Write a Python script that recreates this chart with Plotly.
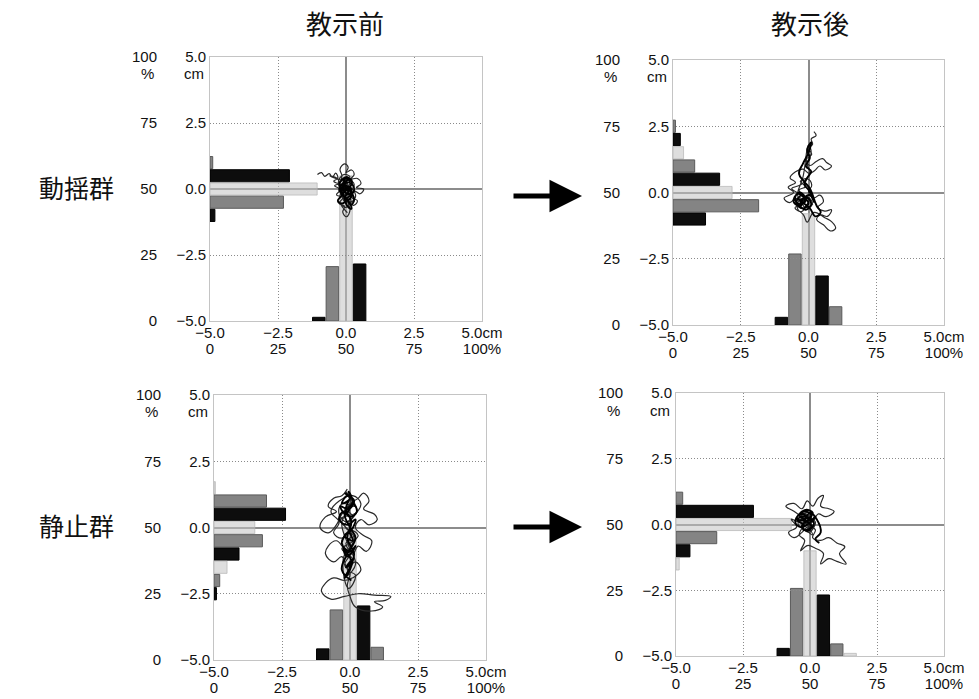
import plotly.graph_objects as go

W, H = 979, 699

# ---------------- text ----------------
col_titles = ["教示前", "教示後"]
row_titles = ["動揺群", "静止群"]

cm_ticks = [-5, -2.5, 0, 2.5, 5]
x_cm_text = ["−5.0", "−2.5", "0.0", "2.5", "5.0cm"]
y_cm_text = ["−5.0", "−2.5", "0.0", "2.5", "5.0"]
pct_ticks = [0, 25, 50, 75, 100]
x_pct_text = ["0", "25", "50", "75", "100%"]
y_pct_text = ["0", "25", "50", "75", "100"]

# ---------------- histogram data (bin centre in cm, share in %) ----------------
# 動揺群・教示前
tl_h_bins = [1.0, 0.5, 0.0, -0.5, -1.0]
tl_h_pct = [1.0, 29.2, 39.4, 27.0, 1.8]
tl_v_bins = [-1.0, -0.5, 0.0, 0.5]
tl_v_pct = [1.4, 20.6, 55.0, 21.6]
# 動揺群・教示後
tr_h_bins = [2.5, 2.0, 1.5, 1.0, 0.5, 0.0, -0.5, -1.0]
tr_h_pct = [0.9, 2.7, 3.9, 8.0, 17.2, 21.8, 31.6, 12.0]
tr_v_bins = [-1.0, -0.5, 0.0, 0.5, 1.0]
tr_v_pct = [2.9, 26.8, 42.0, 18.5, 6.9]
# 静止群・教示前
bl_h_bins = [1.5, 1.0, 0.5, 0.0, -0.5, -1.0, -1.5, -2.0, -2.5]
bl_h_pct = [0.5, 19.3, 26.3, 15.0, 17.8, 9.2, 4.8, 2.1, 0.9]
bl_v_bins = [-1.0, -0.5, 0.0, 0.5, 1.0]
bl_v_pct = [4.2, 18.9, 50.0, 20.4, 4.8]
# 静止群・教示後
br_h_bins = [1.0, 0.5, 0.0, -0.5, -1.0, -1.5]
br_h_pct = [2.5, 28.9, 43.0, 15.2, 5.2, 1.2]
br_v_bins = [-1.0, -0.5, 0.0, 0.5, 1.0, 1.5]
br_v_pct = [2.9, 25.7, 40.0, 23.2, 4.6, 1.0]

# ---------------- sway trajectories (cm), traced by eye ----------------
# outer wandering path
tl_tx = [-1.05, -0.9, -0.78, -0.62, -0.5, -0.38, -0.3, -0.45, -0.25, -0.15, -0.22, -0.05, 0.08, 0.0, 0.2, 0.3,
         0.18, 0.42, 0.55, 0.38, 0.65, 0.52, 0.3, 0.22, 0.42, 0.28, 0.08, 0.15, 0.02, -0.12, -0.05, -0.25,
         -0.12, -0.35, -0.2, -0.42, -0.18, 0.0, 0.15, 0.1, -0.1, 0.05, 0.25, 0.1, -0.05, 0.15, -0.08, -0.28,
         -0.05, 0.2, 0.35, 0.12, -0.1, 0.0, -0.22, -0.05, 0.1, 0.3, 0.15, -0.15, -0.32, -0.6, -0.42, -0.2,
         0.05, -0.1, 0.08, -0.05, 0.18, 0.0, -0.18, 0.05]
tl_ty = [0.55, 0.62, 0.48, 0.58, 0.45, 0.6, 0.4, 0.3, 0.22, 0.5, 0.75, 0.95, 0.82, 0.62, 0.72, 0.55,
         0.38, 0.4, 0.2, 0.05, 0.0, -0.18, -0.08, -0.32, -0.45, -0.62, -0.5, -0.78, -1.05, -0.88, -0.65, -0.55,
         -0.32, -0.22, -0.02, 0.12, 0.18, 0.04, 0.2, -0.1, -0.15, -0.38, -0.2, 0.1, 0.3, 0.45, 0.55, 0.25,
         -0.05, 0.02, -0.3, -0.52, -0.42, -0.2, -0.3, 0.12, 0.35, 0.18, -0.05, 0.08, 0.4, 0.5, 0.42, 0.35,
         0.22, -0.08, -0.25, -0.48, -0.4, -0.7, -0.6, -0.9]
# dense core scribble
tl_cx = [0.0, 0.12, 0.2, 0.08, -0.05, -0.15, -0.05, 0.1, 0.25, 0.3, 0.15, 0.0, -0.12, -0.25, -0.18, 0.0,
         0.15, 0.22, 0.1, -0.05, -0.2, -0.3, -0.15, 0.05, 0.18, 0.3, 0.2, 0.05, -0.1, -0.2, -0.08, 0.1,
         0.2, 0.05, -0.1, 0.0, 0.15, 0.05, -0.15, -0.25, -0.1, 0.05, 0.2, 0.12, -0.02, 0.08, -0.1, 0.02]
tl_cy = [0.0, 0.1, -0.05, -0.2, -0.1, 0.05, 0.2, 0.25, 0.15, -0.05, -0.25, -0.35, -0.2, -0.05, 0.15, 0.3,
         0.38, 0.2, 0.05, -0.1, -0.3, -0.45, -0.55, -0.45, -0.6, -0.4, -0.15, 0.0, 0.1, -0.1, -0.3, -0.4,
         -0.2, 0.1, 0.2, 0.4, 0.3, 0.45, 0.35, 0.15, -0.2, -0.65, -0.75, -0.5, -0.3, -0.1, 0.05, 0.15]

tr_tx = [0.2, 0.28, 0.1, 0.15, -0.02, 0.12, -0.08, 0.05, 0.3, 0.52, 0.68, 0.85, 0.62, 0.42, 0.22, 0.02,
         -0.2, -0.48, -0.68, -0.48, -0.75, -0.55, -0.9, -0.7, -0.45, -0.3, -0.5, -0.25, -0.1, 0.02, -0.2,
         -0.35, -0.1, -0.3, -0.05, 0.12, 0.0, 0.2, 0.42, 0.55, 0.35, 0.6, 0.85, 0.7, 0.45, 0.3, 0.55, 0.8,
         1.0, 0.85, 0.6, 0.2, -0.05, -0.18, -0.4, -0.35, -0.15, -0.42, -0.62, -0.3, -0.12, 0.05, -0.05, 0.1,
         0.0, -0.2, -0.4, -0.25, -0.05, 0.15, -0.15, -0.3, -0.5, -0.2]
tr_ty = [2.3, 2.15, 2.02, 1.82, 1.65, 1.45, 1.25, 1.02, 1.18, 1.28, 1.12, 1.0, 0.85, 1.0, 0.82, 0.72,
         0.88, 0.78, 0.55, 0.38, 0.2, 0.0, -0.22, -0.38, -0.22, -0.42, -0.58, -0.72, -0.5, -0.3, -0.1,
         0.1, 0.22, 0.42, 0.52, 0.28, 0.0, -0.2, -0.1, -0.35, -0.55, -0.7, -0.65, -0.9, -0.85, -1.02, -1.22, -1.45,
         -1.35, -1.1, -0.95, -0.75, -1.12, -0.85, -0.62, -0.3, -0.2, 0.0, 0.15, 0.28, 0.45, 0.75, 1.1, 1.5,
         1.8, 0.6, -0.1, -0.35, -0.15, -0.45, -0.55, -0.2, -0.4, -0.6]
tr_cx = [-0.3, -0.15, -0.35, -0.5, -0.3, -0.1, -0.25, -0.45, -0.2, 0.0, -0.15, -0.4, -0.55, -0.3, -0.05, 0.1,
         -0.1, -0.3, -0.2, 0.05, 0.2, 0.0, -0.15, -0.05, 0.1, -0.1, 0.05, -0.05, 0.1, 0.0, -0.2, -0.35,
         -0.15, 0.05, 0.3, 0.45, 0.25, 0.05, -0.25, -0.4]
tr_cy = [-0.3, -0.15, 0.0, -0.25, -0.45, -0.3, -0.1, -0.4, -0.6, -0.4, -0.2, -0.05, -0.35, -0.5, -0.2, -0.45,
         -0.65, -0.5, -0.25, -0.1, -0.35, 0.1, 0.3, 0.55, 0.8, 1.0, 1.3, 1.6, 1.9, 1.5, 1.1, 0.7,
         0.4, 0.15, -0.5, -0.75, -0.9, -0.6, -0.35, -0.2]

bl_tx = [-0.1, -0.3, -0.6, -0.8, -0.5, -0.9, -1.1, -0.8, -0.5, -0.3, 0.0, 0.3, 0.5, 0.7, 0.5, 0.9,
         1.0, 0.7, 0.4, 0.2, 0.5, 0.8, 0.6, 0.3, 0.1, -0.2, -0.5, -0.8, -0.9, -0.6, -0.3, -0.1, 0.2, 0.4,
         0.1, -0.2, -0.6, -0.9, -1.05, -0.7, -0.2, 0.3, 0.9, 1.5, 1.3, 0.9, 1.2, 0.8, 0.2, 0.0, -0.1, 0.0,
         -0.2, 0.0, -0.15, 0.05, -0.2, 0.1, -0.1, 0.1, -0.2, 0.0, 0.2, -0.3, -0.4, -0.1, 0.2, 0.4, 0.1,
         -0.4, -0.7, -0.4, -0.6, -0.3, 0.0, 0.3, 0.0, -0.3, 0.1, -0.1, 0.2, -0.05, -0.25, 0.15, -0.35,
         0.25, -0.15, 0.05, -0.3, -0.05, 0.2, -0.2]
bl_ty = [1.45, 1.2, 1.1, 0.8, 0.6, 0.4, 0.0, -0.2, 0.1, 0.5, 0.9, 1.1, 1.3, 1.0, 0.7, 0.5,
         0.3, 0.1, 0.3, 0.0, -0.3, -0.5, -0.9, -0.7, -1.0, -0.8, -0.5, -0.7, -1.0, -1.3, -1.1, -1.5, -1.3, -1.6,
         -1.9, -2.0, -1.9, -2.1, -2.4, -2.7, -2.6, -2.5, -2.55, -2.6, -2.75, -2.8, -3.0, -3.15, -3.0, -2.6, -2.2, -1.7,
         -1.4, -1.0, -0.6, -0.3, 0.1, 0.4, 0.7, 1.0, 1.3, 1.1, 0.8, 0.9, 0.5, 0.2, 0.5, 0.9, 1.2,
         1.0, 0.6, 0.2, -0.2, -0.4, -0.1, -0.3, -0.6, -0.8, -1.2, -1.6, -1.8, -2.3, -1.2, -0.4, 0.3,
         0.6, 1.35, 0.85, 0.2, -0.7, -1.4, -1.9]
bl_cx = [-0.2, 0.0, -0.3, -0.1, 0.15, -0.05, -0.35, -0.15, 0.1, 0.25, 0.0, -0.25, -0.4, -0.1, 0.2, 0.05,
         -0.2, 0.1, -0.05, -0.3, 0.0, 0.2, -0.1, -0.25, 0.05, -0.15, 0.1, -0.05, -0.2, 0.0, 0.15, -0.1,
         0.05, -0.15, 0.0, -0.05, 0.1, -0.2, 0.0, 0.2, -0.1, -0.3, 0.05]
bl_cy = [1.3, 1.1, 0.9, 1.2, 1.0, 0.7, 0.8, 0.5, 0.9, 0.6, 0.4, 0.6, 0.3, 0.1, 0.3, -0.1,
         -0.3, -0.5, -0.2, -0.6, -0.9, -0.7, -1.1, -0.8, -1.3, -1.5, -1.2, -1.7, -1.9, -1.5, -1.0, -0.4,
         0.2, 0.7, 1.15, 1.35, 0.95, 0.55, 0.0, -0.4, -1.0, -1.6, -2.0]

br_tx = [-0.2, -0.6, -0.9, -0.6, -0.3, -0.1, 0.1, 0.3, 0.5, 0.4, 0.7, 0.9, 0.6, 0.3, 0.1, -0.1,
         -0.4, -0.7, -0.5, -0.8, -0.6, -0.3, -0.1, 0.2, 0.1, 0.4, 0.7, 1.0, 1.3, 1.1, 1.35, 1.0, 0.7, 0.4,
         0.5, 0.2, -0.1, -0.35, -0.2, -0.4, -0.2, 0.0, -0.3, -0.2, 0.1, -0.1, -0.35, -0.15, 0.15, 0.0,
         -0.25, -0.05, 0.2, -0.2, -0.45, -0.15, 0.05, -0.3, -0.1, 0.1, -0.2]
br_ty = [0.2, 0.5, 0.7, 0.8, 0.6, 0.9, 0.7, 1.0, 1.1, 0.7, 0.6, 0.5, 0.3, 0.4, 0.1, 0.3,
         0.1, 0.2, -0.1, -0.3, -0.5, -0.3, -0.1, -0.2, -0.5, -0.6, -0.5, -0.7, -0.85, -1.1, -1.5, -1.4, -1.3, -1.5,
         -1.1, -0.9, -0.8, -1.0, -0.6, -0.4, 0.0, 0.3, 0.4, 0.1, -0.05, 0.15, 0.25, 0.45, 0.35, 0.0,
         -0.1, -0.3, 0.1, 0.25, 0.05, -0.2, 0.2, 0.35, 0.0, -0.4, -0.15]
br_cx = [-0.2, -0.4, -0.15, 0.05, -0.3, -0.5, -0.25, 0.0, 0.2, -0.1, -0.35, -0.55, -0.2, 0.1, -0.05, -0.3,
         -0.1, 0.15, -0.2, -0.45, -0.1, 0.05, -0.25, 0.0, 0.25, 0.4, 0.2, 0.35]
br_cy = [0.2, 0.35, 0.5, 0.3, 0.05, 0.25, 0.4, 0.15, 0.3, 0.0, -0.1, 0.1, 0.55, 0.45, 0.2, -0.05,
         -0.25, 0.05, 0.3, 0.2, 0.1, -0.1, -0.2, 0.45, 0.2, -0.3, -0.55, -0.7]

panels_data = [
    (tl_h_bins, tl_h_pct, tl_v_bins, tl_v_pct, tl_tx, tl_ty, tl_cx, tl_cy),
    (tr_h_bins, tr_h_pct, tr_v_bins, tr_v_pct, tr_tx, tr_ty, tr_cx, tr_cy),
    (bl_h_bins, bl_h_pct, bl_v_bins, bl_v_pct, bl_tx, bl_ty, bl_cx, bl_cy),
    (br_h_bins, br_h_pct, br_v_bins, br_v_pct, br_tx, br_ty, br_cx, br_cy),
]
for p in panels_data:
    assert len(p[0]) == len(p[1]) and len(p[2]) == len(p[3])
    assert len(p[4]) == len(p[5]) and len(p[6]) == len(p[7])

# ---------------- layout geometry (pixels) ----------------
PANEL_PX = [(210, 482, 57, 321), (673, 944, 60, 325), (214, 486, 395, 660), (676, 944, 393, 656)]

FILL = {0: "rgba(195,195,195,0.55)", 1: "#0d0d0d", 2: "#848484"}
EDGE = {0: "rgba(180,180,180,0.7)", 1: "#000000", 2: "#5a5a5a"}


def shade(c):
    return int(round(c / 0.5)) % 3


def px(x):
    return x / W


def py(y):
    return 1 - y / H


fig = go.Figure()
layout = dict(
    width=W, height=H, margin=dict(l=0, r=0, t=0, b=0, autoexpand=False),
    paper_bgcolor="white", plot_bgcolor="rgba(0,0,0,0)", showlegend=False,
    barmode="overlay", font=dict(family="Liberation Sans, Arial, sans-serif", size=15, color="#111"),
)
annotations = []
TICKFONT = dict(family="Liberation Sans, Arial, sans-serif", size=15, color="#111")

for i, (hb, hp, vb, vp, tx, ty, cx, cy) in enumerate(panels_data):
    x0, x1, y0, y1 = PANEL_PX[i]
    xd = [px(x0), px(x1)]
    yd = [py(y1), py(y0)]
    a = i + 1        # cm axes
    b = i + 5        # % axes
    c = i + 9        # invisible cm overlay for the sway path (drawn on top)
    xa = "x" if a == 1 else f"x{a}"
    ya = "y" if a == 1 else f"y{a}"
    xb, yb = f"x{b}", f"y{b}"
    xc, yc = f"x{c}", f"y{c}"
    xak = "xaxis" if a == 1 else f"xaxis{a}"
    yak = "yaxis" if a == 1 else f"yaxis{a}"

    common = dict(range=[-5, 5], tickmode="array", tickvals=cm_ticks,
                  showgrid=True, gridcolor="#8a8a8a", griddash="1px,2px", gridwidth=1,
                  zeroline=True, zerolinecolor="#8c8c8c", zerolinewidth=1.5,
                  showline=True, linecolor="#c4c4c4", linewidth=1, mirror=True,
                  ticks="", tickfont=TICKFONT, fixedrange=True, automargin=False)
    layout[xak] = dict(domain=xd, anchor=ya, ticktext=x_cm_text, ticklabelstandoff=-2, **common)
    layout[yak] = dict(domain=yd, anchor=xa, ticktext=y_cm_text, **common)
    layout[f"xaxis{b}"] = dict(domain=xd, overlaying=xa, anchor="free", position=py(y1) - 19 / H,
                               side="bottom", range=[0, 100], tickmode="array", tickvals=pct_ticks,
                               ticktext=x_pct_text, showgrid=False, zeroline=False, showline=False,
                               ticklabelstandoff=-2,
                               ticks="", tickfont=TICKFONT, fixedrange=True, automargin=False)
    layout[f"yaxis{b}"] = dict(domain=yd, overlaying=ya, anchor="free", position=px(x0) - 53 / W,
                               side="left", range=[0, 100], tickmode="array", tickvals=pct_ticks,
                               ticktext=y_pct_text, showgrid=False, zeroline=False, showline=False,
                               ticks="", tickfont=TICKFONT, fixedrange=True, automargin=False)
    layout[f"xaxis{c}"] = dict(domain=xd, overlaying=xa, anchor=ya, range=[-5, 5], visible=False,
                               showgrid=False, zeroline=False, fixedrange=True, automargin=False)
    layout[f"yaxis{c}"] = dict(domain=yd, overlaying=ya, anchor=xa, range=[-5, 5], visible=False,
                               showgrid=False, zeroline=False, fixedrange=True, automargin=False)

    # horizontal histogram (y distribution), length in %
    fig.add_trace(go.Bar(x=hp, y=hb, orientation="h", base=0, width=0.46,
                         marker=dict(color=[FILL[shade(v)] for v in hb],
                                     line=dict(color=[EDGE[shade(v)] for v in hb], width=1)),
                         xaxis=xb, yaxis=ya, hoverinfo="skip"))
    # vertical histogram (x distribution), height in %
    fig.add_trace(go.Bar(x=vb, y=vp, base=0, width=0.46,
                         marker=dict(color=[FILL[shade(v)] for v in vb],
                                     line=dict(color=[EDGE[shade(v)] for v in vb], width=1)),
                         xaxis=xa, yaxis=yb, hoverinfo="skip"))
    # sway path: outer loops then dense core
    fig.add_trace(go.Scatter(x=tx, y=ty, mode="lines",
                             line=dict(color="#2a2a2a", width=1.2, shape="spline", smoothing=1.2),
                             xaxis=xc, yaxis=yc, hoverinfo="skip"))
    fig.add_trace(go.Scatter(x=cx, y=cy, mode="lines",
                             line=dict(color="#000000", width=1.9, shape="spline", smoothing=1.2),
                             xaxis=xc, yaxis=yc, hoverinfo="skip"))

    # unit labels under top ticks
    annotations.append(dict(text="cm", xref=f"{xa} domain", yref=f"{ya} domain", x=0, y=1,
                            xanchor="left", yanchor="middle", xshift=-28, yshift=-17,
                            showarrow=False, font=TICKFONT))
    annotations.append(dict(text="%", xref=f"{xa} domain", yref=f"{ya} domain", x=0, y=1,
                            xanchor="center", yanchor="middle", xshift=-63, yshift=-17,
                            showarrow=False, font=TICKFONT))

JP_T = dict(family="Noto Sans CJK JP, sans-serif", size=26, color="#111")
JP_R = dict(family="Noto Sans CJK JP, sans-serif", size=25, color="#111")
annotations.append(dict(text=col_titles[0], xref="paper", yref="paper", x=px(345), y=py(22),
                        showarrow=False, font=JP_T, xanchor="center", yanchor="middle"))
annotations.append(dict(text=col_titles[1], xref="paper", yref="paper", x=px(810), y=py(22),
                        showarrow=False, font=JP_T, xanchor="center", yanchor="middle"))
annotations.append(dict(text=row_titles[0], xref="paper", yref="paper", x=px(76), y=py(187),
                        showarrow=False, font=JP_R, xanchor="center", yanchor="middle"))
annotations.append(dict(text=row_titles[1], xref="paper", yref="paper", x=px(76), y=py(525),
                        showarrow=False, font=JP_R, xanchor="center", yanchor="middle"))

for yy in (196, 527):
    annotations.append(dict(text="", xref="paper", yref="paper", x=px(582), y=py(yy),
                            axref="pixel", ayref="pixel", ax=-70, ay=0, showarrow=True,
                            arrowhead=2, arrowsize=1.3, arrowwidth=5, arrowcolor="#000"))

layout["annotations"] = annotations
fig.update_layout(**layout)
fig.write_html("out.html", config={"displayModeBar": False},
               post_script="document.body.style.margin='0';document.body.style.overflow='hidden';")
